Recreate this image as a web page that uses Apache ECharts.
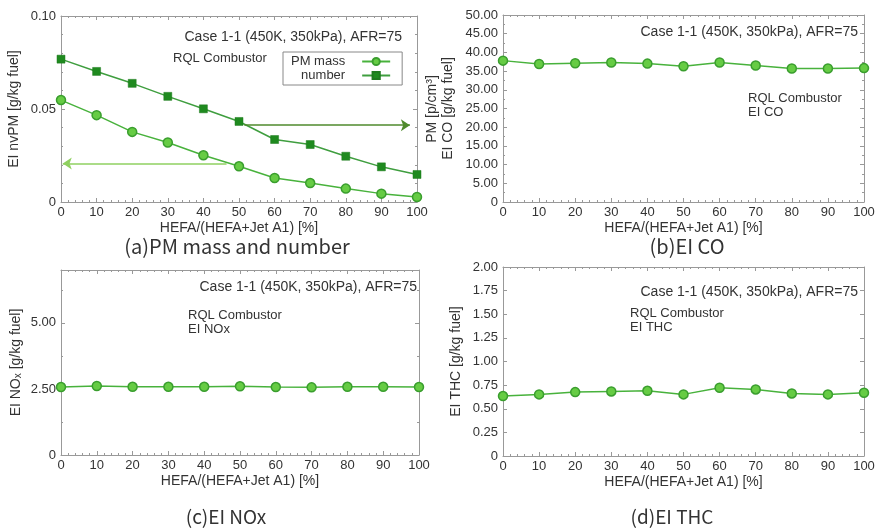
<!DOCTYPE html>
<html><head><meta charset="utf-8">
<script src="https://cdn.jsdelivr.net/npm/echarts@6/dist/echarts.min.js"></script>
<style>html,body{margin:0;padding:0;background:#fff}#c{width:880px;height:530px}</style>
</head><body><div id="c"></div>
<script>
// ---- data ----
const hefaPct = [0, 10, 20, 30, 40, 50, 60, 70, 80, 90, 100];
const pmMass = [0.0548, 0.0467, 0.0377, 0.0320, 0.0251, 0.0192, 0.0129, 0.0102, 0.0072, 0.0045, 0.0027];
const pmNumber = [0.0768, 0.0702, 0.0638, 0.0568, 0.0501, 0.0433, 0.0336, 0.0309, 0.0246, 0.0189, 0.0148];
const eiCO = [37.8, 36.9, 37.1, 37.3, 37.0, 36.3, 37.3, 36.5, 35.7, 35.7, 35.8];
const eiNOx = [2.57, 2.61, 2.58, 2.58, 2.58, 2.60, 2.57, 2.56, 2.58, 2.58, 2.57];
const eiTHC = [0.634, 0.652, 0.676, 0.683, 0.690, 0.652, 0.722, 0.704, 0.662, 0.652, 0.669];
// arrows in panel (a): [x start, x end, y]
const massArrow = [46.5, 0.5, 0.0207];
const numberArrow = [51.5, 98, 0.0413];
// axis ranges: [min, max, interval]
const xRange = [0, 100, 10];
const yRangePM = [0, 0.10, 0.05];
const yRangeCO = [0, 50, 5];
const yRangeNOx = [0, 7, 2.5];
const yRangeTHC = [0, 2, 0.25];
const legendNames = ['PM mass', 'number'];

const FONT = 'Liberation Sans, Arial, sans-serif';
const AX = '#999';
const TXT = '#333';
const pairs = (ys) => hefaPct.map((x, i) => [x, ys[i]]);

function fmt(dec) { return v => (v === 0 ? '0' : v.toFixed(dec)); }

function xAx(grid, pos, showLabel) {
  return {
    type: 'value', gridIndex: grid, position: pos,
    min: xRange[0], max: xRange[1], interval: xRange[2],
    axisLine: { show: true, onZero: false, lineStyle: { color: AX, width: 1 } },
    axisTick: { show: true, inside: true, length: 4, lineStyle: { color: AX } },
    minorTick: { show: true, splitNumber: 5, length: 2, lineStyle: { color: AX } },
    splitLine: { show: false },
    axisLabel: { show: showLabel, color: TXT, fontSize: 13, fontFamily: FONT, margin: 4 },
    name: showLabel ? 'HEFA/(HEFA+Jet A1) [%]' : '',
    nameLocation: 'middle', nameGap: 19,
    nameTextStyle: { color: TXT, fontSize: 14, fontFamily: FONT }
  };
}
function yAx(grid, pos, range, dec, showLabel, name, gap, minorN, extra) {
  const o = {
    type: 'value', gridIndex: grid, position: pos,
    min: range[0], max: range[1], interval: range[2],
    axisLine: { show: true, onZero: false, lineStyle: { color: AX, width: 1 } },
    axisTick: { show: true, inside: true, length: 4, lineStyle: { color: AX } },
    minorTick: { show: minorN > 1, splitNumber: minorN, length: 2, lineStyle: { color: AX } },
    splitLine: { show: false },
    axisLabel: { show: showLabel, color: TXT, fontSize: 13, fontFamily: FONT, margin: 5, formatter: fmt(dec) },
    name: name, nameLocation: 'middle', nameGap: gap, nameRotate: 90,
    nameTextStyle: { color: TXT, fontSize: 14, fontFamily: FONT }
  };
  return Object.assign(o, extra || {});
}

const lineCol = '#48b23c', dotFill = '#66cc44', dotEdge = '#3a9e2e';
function circleSeries(name, xi, yi, ys) {
  return {
    name: name, type: 'line', xAxisIndex: xi, yAxisIndex: yi, data: pairs(ys),
    symbol: 'circle', symbolSize: 9, showSymbol: true,
    lineStyle: { color: lineCol, width: 1.5 },
    itemStyle: { color: dotFill, borderColor: dotEdge, borderWidth: 1.5 },
    animation: false
  };
}

const mass = circleSeries('PM mass', 0, 0, pmMass);
mass.markLine = {
  silent: true, symbol: ['none', 'arrow'], symbolSize: 9, label: { show: false },
  lineStyle: { color: '#8fd060', width: 1.5, type: 'solid' },
  data: [[{ coord: [massArrow[0], massArrow[2]] }, { coord: [massArrow[1], massArrow[2]] }]]
};
const number = {
  name: 'number', type: 'line', xAxisIndex: 0, yAxisIndex: 1, data: pairs(pmNumber),
  symbol: 'rect', symbolSize: 8,
  lineStyle: { color: '#3f9e3f', width: 1.5 },
  itemStyle: { color: '#1f8a1f', borderColor: '#1f7a1f', borderWidth: 0.5 },
  animation: false,
  markLine: {
    silent: true, symbol: ['none', 'arrow'], symbolSize: 9, label: { show: false },
    lineStyle: { color: '#4f8a2c', width: 1.5, type: 'solid' },
    data: [[{ coord: [numberArrow[0], numberArrow[2]] }, { coord: [numberArrow[1], numberArrow[2]] }]]
  }
};

function txt(x, y, s, size, align, fam) {
  return { type: 'text', x: x, y: y, silent: true,
    style: { text: s, fill: TXT, fontSize: size, fontFamily: fam || FONT, align: align || 'left', verticalAlign: 'middle' } };
}
const CAP = 'Noto Sans CJK JP, Noto Sans, sans-serif';

const option = {
  backgroundColor: '#fff',
  animation: false,
  grid: [
    { left: 61, top: 16, width: 356, height: 186 },
    { left: 503, top: 15, width: 361, height: 187 },
    { left: 61, top: 270, width: 358, height: 185 },
    { left: 503, top: 267, width: 361, height: 189 }
  ],
  xAxis: [xAx(0, 'bottom', true), xAx(0, 'top', false), xAx(1, 'bottom', true), xAx(1, 'top', false),
          xAx(2, 'bottom', true), xAx(2, 'top', false), xAx(3, 'bottom', true), xAx(3, 'top', false)],
  yAxis: [
    yAx(0, 'left', yRangePM, 2, true, 'EI nvPM [g/kg fuel]', 40, 5),
    yAx(0, 'right', yRangePM, 2, false, 'PM [p/cm³]', 8, 5),
    yAx(1, 'left', yRangeCO, 2, true, 'EI CO [g/kg fuel]', 48, 2),
    yAx(1, 'right', yRangeCO, 2, false, '', 10, 2),
    yAx(2, 'left', yRangeNOx, 2, true, 'EI NO{s|x} [g/kg fuel]', 38, 2, {
      axisLabel: { show: true, color: TXT, fontSize: 13, fontFamily: FONT, margin: 5, formatter: fmt(2), showMaxLabel: false },
      nameTextStyle: { color: TXT, fontSize: 14, fontFamily: FONT,
        rich: { s: { fontSize: 10, lineHeight: 10, fontFamily: FONT, color: TXT, verticalAlign: 'bottom', padding: [6, 0, 0, 0] } } }
    }),
    yAx(2, 'right', yRangeNOx, 2, false, '', 10, 2),
    yAx(3, 'left', yRangeTHC, 2, true, 'EI THC [g/kg fuel]', 40, 1),
    yAx(3, 'right', yRangeTHC, 2, false, '', 10, 1)
  ],
  legend: {
    data: legendNames, left: 283, top: 52, orient: 'vertical', align: 'right',
    borderColor: '#888', borderWidth: 1, padding: [3, 11, 3, 8], itemGap: 1,
    itemWidth: 28, itemHeight: 9, selectedMode: false,
    textStyle: { color: TXT, fontSize: 13, fontFamily: FONT, padding: [0, 12, 0, 0] }
  },
  graphic: [
    txt(402, 37, 'Case 1-1 (450K, 350kPa), AFR=75', 14, 'right'),
    txt(173, 58, 'RQL Combustor', 13),
    txt(858, 32, 'Case 1-1 (450K, 350kPa), AFR=75', 14, 'right'),
    txt(748, 98, 'RQL Combustor', 13),
    txt(748, 112, 'EI CO', 13),
    txt(417, 287, 'Case 1-1 (450K, 350kPa), AFR=75', 14, 'right'),
    txt(188, 315, 'RQL Combustor', 13),
    txt(188, 329, 'EI NOx', 13),
    txt(858, 292, 'Case 1-1 (450K, 350kPa), AFR=75', 14, 'right'),
    txt(630, 313, 'RQL Combustor', 13),
    txt(630, 327, 'EI THC', 13),
    txt(237, 246, '(a)PM mass and number', 20, 'center', CAP),
    txt(687, 246, '(b)EI CO', 20, 'center', CAP),
    txt(226, 517, '(c)EI NOx', 19, 'center', CAP),
    txt(672, 517, '(d)EI THC', 19, 'center', CAP)
  ],
  series: [
    mass, number,
    circleSeries('EI CO', 2, 2, eiCO),
    circleSeries('EI NOx', 4, 4, eiNOx),
    circleSeries('EI THC', 6, 6, eiTHC)
  ]
};
const chart = echarts.init(document.getElementById('c'), null, { renderer: 'canvas' });
chart.setOption(option);
</script></body></html>
